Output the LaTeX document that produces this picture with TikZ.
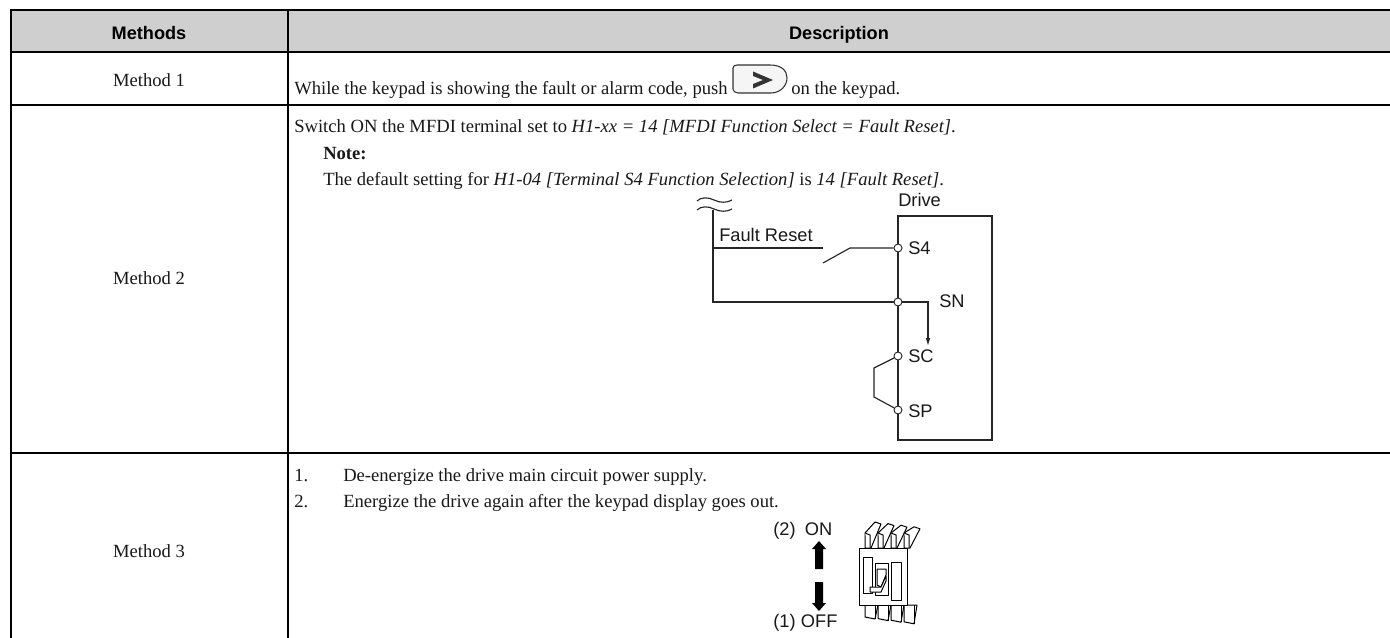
\documentclass[tikz,border=0pt]{standalone}
\usepackage{fontspec}
\setmainfont{Liberation Serif}
\newfontfamily\helv{Liberation Sans}
\usetikzlibrary{arrows.meta}
\definecolor{headgray}{HTML}{CFCFCF}
\tikzset{
  x=0.75pt,y=-0.75pt,
  rule/.style={line width=1.5pt,black},
  body/.style={font=\fontsize{13.95pt}{16pt}\selectfont,anchor=base west,inner sep=0pt,text=black!90},
  cell/.style={font=\fontsize{13.95pt}{16pt}\selectfont,anchor=base,inner sep=0pt,text=black!90},
  head/.style={font=\helv\bfseries\fontsize{13.6pt}{16pt}\selectfont,anchor=base,inner sep=0pt},
  dia/.style={font=\helv\fontsize{13.7pt}{16pt}\selectfont,anchor=base west,inner sep=0pt,text=black!90},
  wire/.style={line width=0.85pt,black!85},
  term/.style={circle,draw=black!85,fill=white,line width=0.7pt,inner sep=0pt,minimum size=6pt},
  brk/.style={line width=0.75pt,black,fill=white,line join=round},
}
\begin{document}
\begin{tikzpicture}
\useasboundingbox (0,0) rectangle (1390,638);
\fill[white] (0,0) rectangle (1390,638);
\fill[headgray] (11,10) rectangle (1390,52);
\draw[rule] (1390,10) -- (11,10) -- (11,638);
\draw[rule] (288,10) -- (288,638);
\draw[rule] (11,52) -- (1390,52);
\draw[rule] (11,105) -- (1390,105);
\draw[rule] (11,453) -- (1390,453);
\node[head] (h1) at (149,40) {Methods};
\node[head] (h2) at (839,40) {Description};
\node[cell] (m1) at (149,87) {Method 1};
\node[cell] (m2) at (149,285) {Method 2};
\node[cell] (m3) at (149,557) {Method 3};
\node[body] (t1a) at (294,95) {While the keypad is showing the fault or alarm code, push};
\node[body] (t1b) at (791,95) {on the keypad.};
\node[body] (t2a) at (294,133) {Switch ON the MFDI terminal set to \textit{H1-xx = 14 [MFDI Function Select = Fault Reset]}.};
\node[body] (t2b) at (323,160) {\textbf{Note:}};
\node[body] (t2c) at (323,186) {The default setting for \textit{H1-04 [Terminal S4 Function Selection]} is \textit{14 [Fault Reset]}.};
\node[body] (t3a) at (294,481) {1.};
\node[body] (t3b) at (343,481) {De-energize the drive main circuit power supply.};
\node[body] (t3c) at (294,507) {2.};
\node[body] (t3d) at (343,507) {Energize the drive again after the keypad display goes out.};
% keypad button
\draw[line width=0.8pt,black!80,fill=black!4] (733,68) .. controls (733,66) and (735,65) .. (737,65) -- (770,65) .. controls (782,65) and (787,71) .. (787,78) .. controls (787,86) and (780,93) .. (771,93) -- (738,93) .. controls (735,93) and (733,91) .. (733,89) -- cycle;
\fill[black!80] (753,71.5) -- (773,80) -- (753,88.5) -- (753,84) -- (763,80) -- (753,76) -- cycle;
% circuit
\draw[wire] (697,201) .. controls (701,197) and (708,197) .. (714,200) .. controls (720,203) and (727,203) .. (732,200);
\draw[wire] (697,210) .. controls (701,206) and (708,206) .. (714,209) .. controls (720,212) and (727,212) .. (732,209);
\coordinate (rail) at (713,210);
\coordinate (frl) at (713,248);
\coordinate (snk) at (713,302);
\coordinate (boxtl) at (898,216);
\coordinate (boxtr) at (992,216);
\coordinate (boxbr) at (992,440);
\coordinate (boxbl) at (898,440);
\draw[wire,fill=white] (boxtr) -- (boxtl) -- (boxbl) -- (boxbr) -- cycle;
\node[term] (s4) at (898,248) {};
\node[term] (sn) at (898,302) {};
\node[term] (sc) at (898,356) {};
\node[term] (sp) at (898,410) {};
\coordinate (a1) at (823,248);
\coordinate (a2) at (823,263);
\coordinate (a3) at (850,248);
\draw[wire] (rail) -- (snk) -- (sn);
\draw[wire] (frl) -- (a1);
\draw[wire] (a2) -- (a3) -- (s4);
\coordinate (k1) at (928,302);
\coordinate (k2) at (928,346);
\draw[wire,-{Latex[length=6pt,width=3.5pt]}] (sn) -- (k1) -- (k2);
\coordinate (j1) at (874,368);
\coordinate (j2) at (874,397);
\draw[wire] (sc) -- (j1) -- (j2) -- (sp);
\node[dia] (ldrive) at (898,207) {Drive};
\node[dia] (lfr) at (719,242) {Fault Reset};
\node[dia] (ls4) at (908,255) {S4};
\node[dia] (lsn) at (939,308) {SN};
\node[dia] (lsc) at (908,363) {SC};
\node[dia] (lsp) at (908,417) {SP};
% breaker
\node[dia] (lon) at (773,535) {(2)\hspace{7pt}ON};
\node[dia] (loff) at (773,627) {(1)\hspace{4pt}OFF};
\fill[black] (819,541) -- (826,549) -- (823,549) -- (823,569) -- (815,569) -- (815,549) -- (812,549) -- cycle;
\fill[black] (819,611) -- (826,603) -- (823,603) -- (823,582) -- (815,582) -- (815,603) -- (812,603) -- cycle;
\foreach \i in {0,1,2,3}{
  \draw[brk] ({865+\i*13},548) -- ({865+\i*13},533) -- ({875+\i*13},{522+\i*1.6}) -- ({881+\i*13},{524+\i*1.6}) -- ({871+\i*13},548) -- cycle;
  \draw[brk] ({865+\i*13},533) -- ({870+\i*13},535) -- ({870+\i*13},548);
  \draw[brk] ({865+\i*13},605) -- ({865+\i*13},{617+\i*1.6}) -- ({875+\i*13},{619+\i*1.6}) -- ({878+\i*13},605) -- cycle;
  \draw[brk] ({875+\i*13},605) -- ({875+\i*13},{619+\i*1.6});
}
\draw[brk] (859,548) rectangle (907,605);
\draw[brk] (863,557) rectangle (872,593);
\draw[brk] (891,562) rectangle (901,600);
\draw[brk] (875,563) rectangle (888,595);
\draw[brk] (877,569) -- (886,569) -- (886,575) -- (881,587) -- (877,585) -- cycle;
\draw[brk] (870,587) -- (881,587) -- (886,576) -- (886,581) -- (881,592) -- (870,592) -- cycle;
\end{tikzpicture}
\end{document}
